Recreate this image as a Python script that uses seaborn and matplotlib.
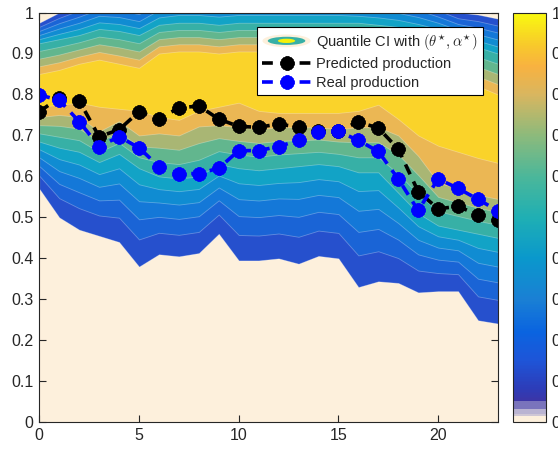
import numpy as np
import matplotlib
matplotlib.use("Agg")
import matplotlib.pyplot as plt
import seaborn as sns
from matplotlib.colors import LinearSegmentedColormap, Normalize
from matplotlib.patches import Ellipse, Patch
from matplotlib.legend_handler import HandlerBase
import matplotlib.cm as cm

# ---------------- data ----------------
hours = list(range(24))
predicted = [0.758, 0.792, 0.785, 0.697, 0.714, 0.758, 0.741, 0.767, 0.772, 0.740, 0.722,
             0.720, 0.728, 0.720, 0.710, 0.712, 0.733, 0.718, 0.667, 0.563, 0.521, 0.527,
             0.506, 0.493]
real = [0.799, 0.786, 0.734, 0.673, 0.697, 0.670, 0.624, 0.607, 0.607, 0.620, 0.663,
        0.663, 0.673, 0.688, 0.708, 0.710, 0.688, 0.661, 0.594, 0.517, 0.594, 0.571,
        0.544, 0.516]

# quantile-CI band boundaries (field level at each boundary in comments)
ci_low = [0.57, 0.50, 0.47, 0.455, 0.44, 0.38, 0.41, 0.405, 0.413, 0.46, 0.395, 0.395,
          0.40, 0.387, 0.406, 0.40, 0.33, 0.344, 0.34, 0.317, 0.32, 0.32, 0.249, 0.241]   # 0
ci_mid_low = [0.685, 0.67, 0.66, 0.635, 0.655, 0.62, 0.60, 0.595, 0.60, 0.63, 0.62, 0.615,
              0.62, 0.625, 0.63, 0.625, 0.61, 0.61, 0.56, 0.51, 0.48, 0.47, 0.46, 0.45]     # 0.5
ci_orange_low = [0.745, 0.75, 0.745, 0.71, 0.735, 0.70, 0.705, 0.70, 0.722, 0.725, 0.72,
                 0.715, 0.72, 0.72, 0.72, 0.715, 0.72, 0.72, 0.70, 0.65, 0.585, 0.57,
                 0.555, 0.545]                                                              # 0.8
ci_core_low = [0.77, 0.775, 0.78, 0.77, 0.765, 0.76, 0.745, 0.738, 0.76, 0.77, 0.78, 0.76,
               0.755, 0.755, 0.755, 0.755, 0.76, 0.775, 0.74, 0.70, 0.675, 0.66, 0.645,
               0.633]                                                                       # 0.9
ci_core_high = [0.85, 0.86, 0.875, 0.885, 0.875, 0.865, 0.90, 0.905, 0.905, 0.90, 0.905,
                0.905, 0.905, 0.905, 0.905, 0.905, 0.905, 0.90, 0.89, 0.875, 0.86, 0.84,
                0.82, 0.80]                                                                 # 0.9
ci_mid_high = [0.925, 0.935, 0.945, 0.96, 0.955, 0.945, 0.97, 0.975, 0.975, 0.97, 0.975,
               0.975, 0.975, 0.975, 0.975, 0.975, 0.975, 0.97, 0.965, 0.955, 0.945, 0.93,
               0.915, 0.90]                                                                 # 0.5
ci_high = [0.975, 1.00, 1.02, 1.04, 1.04, 1.03, 1.06, 1.07, 1.07, 1.07, 1.07, 1.07, 1.07,
           1.07, 1.07, 1.07, 1.06, 1.06, 1.05, 1.04, 1.02, 1.00, 0.995, 0.985]              # 0

band_levels = [0.0, 0.1, 0.2, 0.3, 0.4, 0.5, 0.6, 0.7, 0.8, 0.9]
band_colors = ['#2650cd', '#1a64d6', '#1478d8', '#108cd2', '#12a3c6',
               '#37b0a6', '#62b68e', '#a9b674', '#ebb754', '#fad32a']

x_ticks = [0, 5, 10, 15, 20]
y_ticks = [0, 0.1, 0.2, 0.3, 0.4, 0.5, 0.6, 0.7, 0.8, 0.9, 1]
y_tick_labels = ['0', '0.1', '0.2', '0.3', '0.4', '0.5', '0.6', '0.7', '0.8', '0.9', '1']

cbar_cmap = LinearSegmentedColormap.from_list('cb', [
    (0.0, '#fdf0dc'), (0.015, '#fdf0dc'), (0.016, '#bab4d2'), (0.03, '#bab4d2'),
    (0.031, '#7a74bc'), (0.047, '#7a74bc'), (0.05, '#3c35a6'), (0.08, '#2d3cb8'),
    (0.15, '#1e55d8'), (0.22, '#0a64e0'), (0.3, '#1a80d4'), (0.4, '#0a98cc'),
    (0.5, '#1fafb4'), (0.6, '#4bb79a'), (0.7, '#8cba7c'), (0.8, '#d8b660'),
    (0.87, '#f8b240'), (0.92, '#f8c82c'), (1.0, '#f9f90f')])

# ---------------- style ----------------
sns.set_style("ticks")
plt.rcParams['font.family'] = ['Liberation Sans', 'DejaVu Sans']
plt.rcParams['mathtext.fontset'] = 'cm'

fig = plt.figure(figsize=(5.58, 4.55), dpi=100)
ax = fig.add_axes([0.0704, 0.0719, 0.822, 0.9006])
cax = fig.add_axes([513 / 558, 0.0719, 33 / 558, 0.9006])
ax.set_facecolor('#fdf0dc')

# nested bands: boundary of level L interpolated between the anchor curves
lo_a = np.array([ci_low, ci_mid_low, ci_orange_low, ci_core_low])
hi_a = np.array([ci_high, ci_mid_high, ci_core_high])
lo_lv = [0.0, 0.5, 0.8, 0.9]
hi_lv = [0.0, 0.5, 0.9]
for L, col in zip(band_levels, band_colors):
    Le = 0.5 * (L / 0.5) ** 0.8 if L < 0.5 else L
    lower = np.array([np.interp(Le, lo_lv, lo_a[:, i]) for i in range(len(hours))])
    upper = np.array([np.interp(L, hi_lv, hi_a[:, i]) for i in range(len(hours))])
    ax.fill_between(hours, lower, upper, facecolor=col, linewidth=0.6,
                    edgecolor=(1, 1, 1, 0.3))

lkw = dict(linestyle=(0, (3, 2.2)), linewidth=2.6, marker=(8, 2, 0), markersize=10,
           markeredgewidth=3.0)
sns.lineplot(x=hours, y=predicted, ax=ax, color='black', markeredgecolor='black',
             label='Predicted production', legend=False, **lkw)
sns.lineplot(x=hours, y=real, ax=ax, color='#0000ff', markeredgecolor='#0000ff',
             label='Real production', legend=False, **lkw)

ax.set_xlim(0, 23)
ax.set_ylim(0, 1)
ax.set_xticks(x_ticks)
ax.set_xticklabels([str(t) for t in x_ticks])
ax.set_yticks(y_ticks)
ax.set_yticklabels(y_tick_labels)
ax.set_xlabel('')
ax.set_ylabel('')
ax.tick_params(direction='in', top=True, right=True, length=5, width=0.8,
               labelsize=11.5, colors='#262626', pad=4)
for s in ax.spines.values():
    s.set_color('#262626')
    s.set_linewidth(0.8)
    s.set_visible(True)


class HandlerEllipses(HandlerBase):
    def create_artists(self, legend, orig_handle, xdescent, ydescent, width, height,
                       fontsize, trans):
        cx = 0.5 * width - xdescent
        cy = 0.5 * height - ydescent
        arts = []
        for fw, fh, c in [(1.0, 1.25, '#fdf0dc'), (0.78, 0.8, '#37b0a6'),
                          (0.36, 0.42, '#f5f00a')]:
            arts.append(Ellipse((cx, cy), width * fw, height * fh, facecolor=c,
                                edgecolor='none', transform=trans))
        return arts


proxy = Patch(facecolor='#37b0a6')
lines = ax.get_lines()
leg = ax.legend([proxy, lines[0], lines[1]],
                [r'Quantile CI with $(\theta^{\star},\alpha^{\star})$',
                 'Predicted production', 'Real production'],
                handler_map={proxy: HandlerEllipses()},
                loc='upper right', bbox_to_anchor=(0.967, 0.965), borderaxespad=0,
                fontsize=10.5, handlelength=3.3, frameon=True, fancybox=False,
                framealpha=1, edgecolor='black', borderpad=0.35, labelspacing=0.35,
                handletextpad=0.4)
leg.get_frame().set_linewidth(0.8)

sm = cm.ScalarMappable(norm=Normalize(0, 1), cmap=cbar_cmap)
cb = fig.colorbar(sm, cax=cax)
cb.set_ticks(y_ticks)
cb.set_ticklabels(y_tick_labels)
cax.tick_params(direction='in', length=5, width=0.8, labelsize=11.5, colors='#262626', pad=4)
cb.outline.set_edgecolor('#262626')
cb.outline.set_linewidth(0.8)

fig.savefig('out.png', dpi=100)
